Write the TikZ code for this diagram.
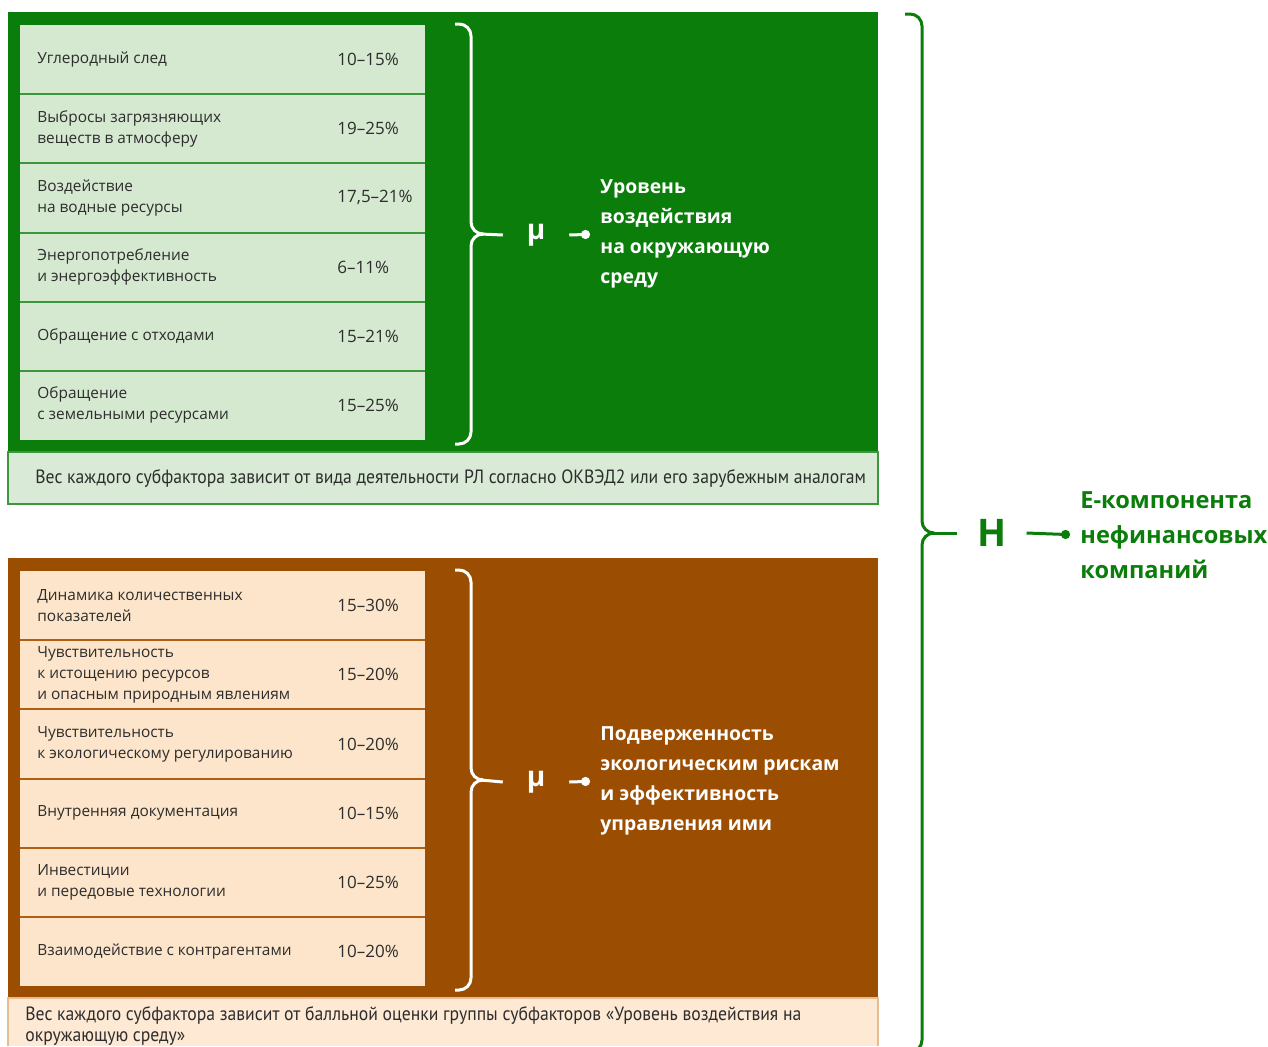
\documentclass[tikz,border=0pt]{standalone}
\usepackage{fontspec}
\setmainfont{Open Sans}
\newfontfamily\notefont[FakeStretch=0.92]{PT Sans}
\usetikzlibrary{arrows.meta}
\definecolor{ecogreen}{RGB}{10,125,10}
\definecolor{palegreen}{RGB}{213,232,208}
\definecolor{notegreen}{RGB}{217,235,214}
\definecolor{gline}{RGB}{60,150,60}
\definecolor{rust}{RGB}{155,78,2}
\definecolor{peach}{RGB}{252,229,202}
\definecolor{notepeach}{RGB}{253,233,212}
\definecolor{rline}{RGB}{175,95,20}
\definecolor{ink}{RGB}{45,45,45}
\begin{document}
\begin{tikzpicture}[x=0.5pt, y=-0.5pt,
		rowtext/.style={anchor=west, align=left, inner sep=0, text=ink,
				font=\fontsize{7.7}{10.5}\selectfont},
		pcttext/.style={anchor=west, inner sep=0, text=ink,
				font=\fontsize{8.5}{10.5}\selectfont},
		notetext/.style={anchor=west, align=left, inner sep=0, text=ink,
				font=\notefont\fontsize{9.6}{10.5}\selectfont},
		brace/.style={line width=1.5pt, rounded corners=6pt},
		mu/.style={inner sep=0, outer xsep=12pt, text=white,
				font=\bfseries\fontsize{14}{14}\selectfont},
		title/.style={anchor=west, align=left, inner sep=0, text=white,
				font=\bfseries\fontsize{9.7}{15}\selectfont},
		dotline/.style={line width=1.5pt, -{Circle[length=4.5pt]}, shorten >=5pt}]
	\useasboundingbox (0,0) rectangle (1268,1046);

	% environmental impact
	\fill[ecogreen] (8,12) rectangle (878,452);
	\fill[palegreen] (20,25) rectangle (425,440);
	\foreach \i in {1,...,5}
		\draw[gline, line width=1pt] (20,{25+69.17*\i}) -- (425,{25+69.17*\i});
	\foreach \lab/\val [count=\i] in {
			{Углеродный след}/{10–15\%},
			{Выбросы загрязняющих\\веществ в атмосферу}/{19–25\%},
			{Воздействие\\на водные ресурсы}/{17,5–21\%},
			{Энергопотребление\\и энергоэффективность}/{6–11\%},
			{Обращение с отходами}/{15–21\%},
			{Обращение\\с земельными ресурсами}/{15–25\%}}{
		\node[rowtext] (envL\i) at (37,{25+69.17*(\i-0.5)}) {\lab};
		\node[pcttext] (envP\i) at (337,{25+69.17*(\i-0.5)}) {\val};
	}
	\draw[white, brace] (455,24) -- (471,24) -- (471,234) -- (481,234) coordinate (envB);
	\draw[white, brace] (455,444) -- (471,444) -- (471,234) -- (481,234);
	\node[mu] (envMu) at (536,235) {μ};
	\node[title] (envT) at (600,234) {Уровень\\воздействия\\на окружающую\\среду};
	\draw[white, line width=1.5pt] (envB) -- (envMu.west);
	\draw[white, dotline] (envMu.east) -- (envT.west);
	\filldraw[fill=notegreen, draw=gline, line width=0.6pt] (8,452) rectangle (878,504);
	\node[notetext] (envN) at (35,478) {Вес каждого субфактора зависит от вида деятельности РЛ согласно ОКВЭД2 или его зарубежным аналогам};

	% exposure to environmental risks
	\fill[rust] (8,558) rectangle (878,998);
	\fill[peach] (20,571) rectangle (425,986);
	\foreach \i in {1,...,5}
		\draw[rline, line width=1pt] (20,{571+69.17*\i}) -- (425,{571+69.17*\i});
	\foreach \lab/\val [count=\i] in {
			{Динамика количественных\\показателей}/{15–30\%},
			{Чувствительность\\к истощению ресурсов\\и опасным природным явлениям}/{15–20\%},
			{Чувствительность\\к экологическому регулированию}/{10–20\%},
			{Внутренняя документация}/{10–15\%},
			{Инвестиции\\и передовые технологии}/{10–25\%},
			{Взаимодействие с контрагентами}/{10–20\%}}{
		\node[rowtext] (rskL\i) at (37,{571+69.17*(\i-0.5)}) {\lab};
		\node[pcttext] (rskP\i) at (337,{571+69.17*(\i-0.5)}) {\val};
	}
	\draw[white, brace] (455,570) -- (471,570) -- (471,780) -- (481,780) coordinate (rskB);
	\draw[white, brace] (455,990) -- (471,990) -- (471,780) -- (481,780);
	\node[mu] (rskMu) at (536,782) {μ};
	\node[title] (rskT) at (600,781) {Подверженность\\экологическим рискам\\и эффективность\\управления ими};
	\draw[white, line width=1.5pt] (rskB) -- (rskMu.west);
	\draw[white, dotline] (rskMu.east) -- (rskT.west);
	\fill[notepeach] (8,998) rectangle (878,1046);
	\draw[peach!70!rline, line width=0.6pt] (8,1046) -- (8,998) -- (878,998) -- (878,1046);
	\node[notetext] (rskN) at (25,1026) {Вес каждого субфактора зависит от балльной оценки группы субфакторов «Уровень воздействия на\\окружающую среду»};

	% E-component
	\draw[ecogreen, brace] (905,14) -- (922,14) -- (922,533) -- (932,533) coordinate (hB);
	\draw[ecogreen, brace] (905,1052) -- (922,1052) -- (922,533) -- (932,533);
	\node[inner sep=0, outer xsep=10pt, text=ecogreen,
		font=\bfseries\fontsize{19}{19}\selectfont] (hH) at (992,533) {Н};
	\node[anchor=west, align=left, inner sep=0, text=ecogreen,
		font=\bfseries\fontsize{11.8}{17.5}\selectfont] (hT) at (1080,535) {Е-компонента\\нефинансовых\\компаний};
	\draw[ecogreen, line width=1.5pt] (hB) -- (hH.west);
	\draw[ecogreen, dotline] (hH.east) -- (hT.west);
\end{tikzpicture}
\end{document}
